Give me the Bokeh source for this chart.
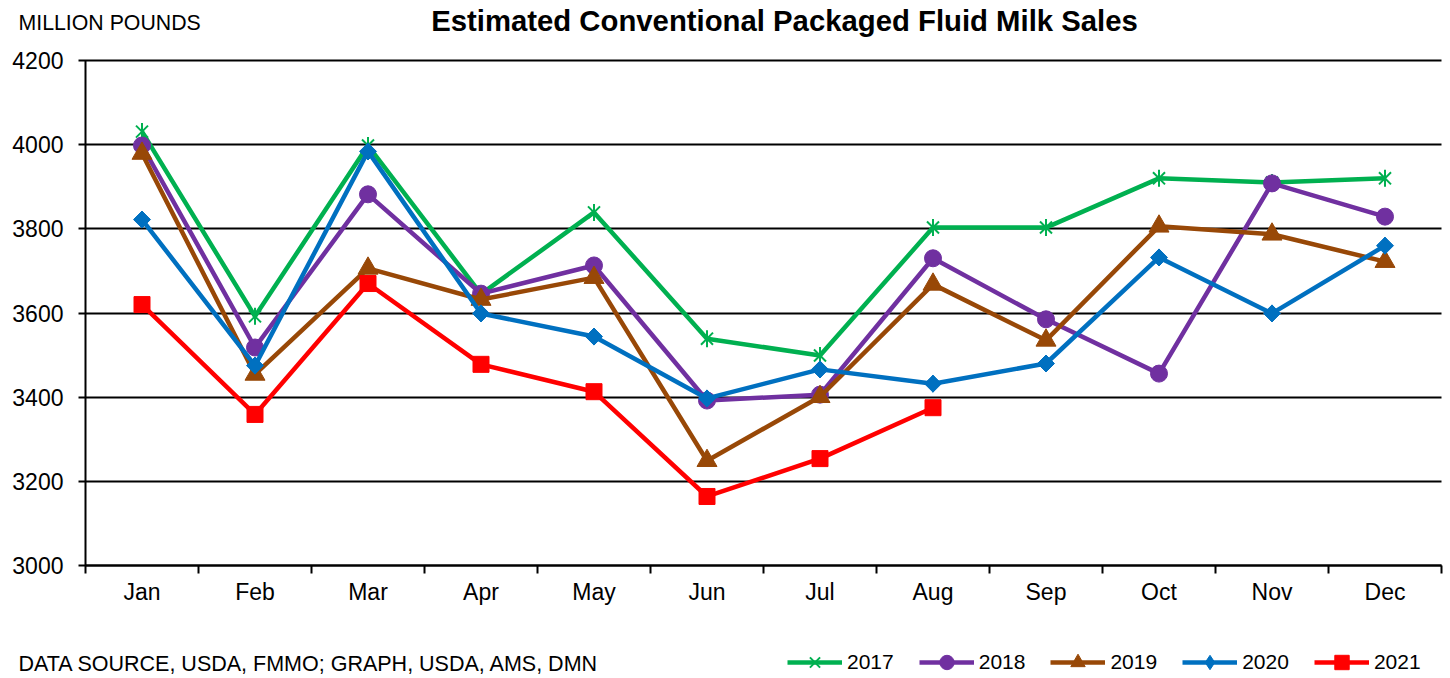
import math
from bokeh.plotting import figure
from bokeh.models import Range1d, FixedTicker, Legend, LegendItem, Label
from bokeh.embed import file_html
from bokeh.resources import INLINE

months = ["Jan", "Feb", "Mar", "Apr", "May", "Jun", "Jul", "Aug", "Sep", "Oct", "Nov", "Dec"]
y2017 = [4031, 3592, 3998, 3645, 3839, 3539, 3499, 3803, 3803, 3920, 3910, 3920]
y2018 = [3998, 3518, 3882, 3646, 3713, 3392, 3406, 3730, 3585, 3456, 3908, 3829]
y2019 = [3979, 3454, 3706, 3632, 3684, 3249, 3401, 3668, 3535, 3806, 3787, 3722]
y2020 = [3822, 3475, 3984, 3599, 3544, 3397, 3466, 3432, 3480, 3732, 3599, 3760]
y2021 = [3620, 3359, 3670, 3478, 3413, 3164, 3254, 3375]
y_ticks = [3000, 3200, 3400, 3600, 3800, 4000, 4200]
title_text = "Estimated Conventional Packaged Fluid Milk Sales"
unit_text = "MILLION POUNDS"
source_text = "DATA SOURCE, USDA, FMMO; GRAPH, USDA, AMS, DMN"

FONT = "Liberation Sans"
W, H = 1450, 678
# plot-area box inside the canvas (pixels)
PL, PR, PT, PB = 85, 1441, 60, 565
X0, X1 = 0.5, 12.5
Y0, Y1 = 3000, 4200
xs = list(range(1, 13))

kx = (X1 - X0) / (PR - PL)
ky = (Y1 - Y0) / (PB - PT)


def px_x(px):
    return X0 + (px - PL) * kx


def px_y(py):
    return Y0 + (PB - py) * ky


# the frame covers the whole canvas; axes are pinned at the plot-area edges
p = figure(width=W, height=H, output_backend="svg", toolbar_location=None,
           x_range=Range1d(px_x(0), px_x(W)), y_range=Range1d(px_y(H), px_y(0)),
           min_border=0, min_border_left=0, min_border_right=0,
           min_border_top=0, min_border_bottom=0)
p.outline_line_color = None
p.background_fill_color = "white"
p.border_fill_color = "white"
p.grid.visible = False

xa = p.xaxis[0]
xa.fixed_location = Y0
xa.bounds = (X0, X1)
xa.ticker = FixedTicker(ticks=xs, minor_ticks=[i + 0.5 for i in range(0, 13)])
xa.major_label_overrides = {i + 1: m for i, m in enumerate(months)}
xa.major_tick_out = 0
xa.major_tick_in = 0
xa.minor_tick_out = 8
xa.minor_tick_in = 0
xa.minor_tick_line_color = "black"
xa.minor_tick_line_width = 2
xa.axis_line_color = "black"
xa.axis_line_width = 2
xa.major_label_text_font = FONT
xa.major_label_text_font_size = "23px"
xa.major_label_text_color = "black"
xa.major_label_standoff = 5

ya = p.yaxis[0]
ya.fixed_location = X0
ya.bounds = (Y0, Y1)
ya.level = "underlay"
ya.ticker = FixedTicker(ticks=y_ticks)
ya.major_tick_out = 7
ya.major_tick_in = PR - PL          # ticks run across the plot as gridlines
ya.major_tick_line_width = 2
ya.major_tick_line_color = "black"
ya.minor_tick_line_color = None
ya.axis_line_color = "black"
ya.axis_line_width = 2
ya.major_label_text_font = FONT
ya.major_label_text_font_size = "23px"
ya.major_label_text_color = "black"
ya.major_label_standoff = 15

# (label, values, colour, [(marker, size, angle, shown_in_legend), ...])
series = [
    ("2017", y2017, "#00B050", [("x", 17, 0.0, True), ("dash", 17, math.pi / 2, True)]),
    ("2018", y2018, "#7030A0", [("circle", 17, 0.0, True)]),
    ("2019", y2019, "#984807", [("triangle", 20, 0.0, True)]),
    ("2020", y2020, "#0070C0", [("diamond", 17, 0.0, True), ("square", 12, math.pi / 4, False)]),
    ("2021", y2021, "#FF0000", [("square", 16, 0.0, True)]),
]

items = []
for name, ys, color, marks in series:
    xx = xs[:len(ys)]
    rends = [p.line(xx, ys, line_color=color, line_width=4.5)]
    for marker, size, angle, in_legend in marks:
        lw = 2 if marker in ("x", "dash") else 1
        r = p.scatter(xx, ys, marker=marker, size=size, angle=angle,
                      fill_color=color, line_color=color, line_width=lw)
        if in_legend:
            rends.append(r)
    items.append(LegendItem(label=name, renderers=rends))

legend = Legend(items=items, orientation="horizontal", location=(787, -2),
                padding=0, margin=0, border_line_color=None,
                background_fill_alpha=0, label_text_font=FONT,
                label_text_font_size="21px", label_text_color="black",
                glyph_width=55, glyph_height=36, label_standoff=5, spacing=25)
p.add_layout(legend, "center")

p.add_layout(Label(x=px_x(18), y=px_y(22.5), text=unit_text, text_font=FONT,
                   text_font_size="21.3px", text_baseline="middle",
                   text_align="left", text_color="black"))
p.add_layout(Label(x=px_x(784), y=px_y(20), text=title_text, text_font=FONT,
                   text_font_size="29.3px", text_font_style="bold",
                   text_baseline="middle", text_align="center",
                   text_color="black"))
p.add_layout(Label(x=px_x(18), y=px_y(663), text=source_text, text_font=FONT,
                   text_font_size="21.5px", text_baseline="middle",
                   text_align="left", text_color="black"))

open("out.html", "w").write(file_html(p, INLINE))
